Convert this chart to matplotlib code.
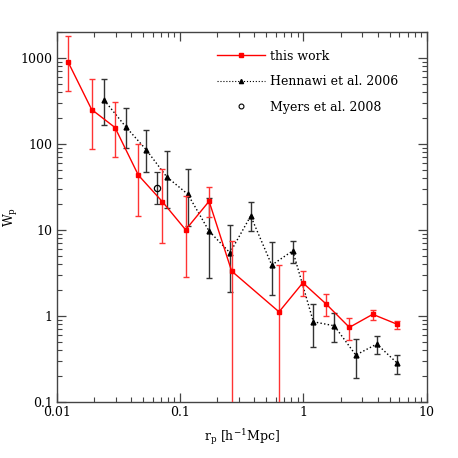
import numpy as np
import matplotlib
matplotlib.use("Agg")
import matplotlib.pyplot as plt
from matplotlib.lines import Line2D
from matplotlib.ticker import LogLocator, FixedFormatter, FixedLocator, NullFormatter

# this work (red squares)
r_this = [0.0124, 0.0192, 0.0297, 0.0459, 0.072, 0.111, 0.172, 0.262, 0.635, 0.99, 1.53, 2.36, 3.65, 5.72]
w_this = [891, 251, 155, 43.3, 21.2, 10.0, 21.5, 3.31, 1.11, 2.42, 1.37, 0.733, 1.04, 0.80]
w_this_hi = [1787, 575, 308, 101, 50.4, 24.8, 31.6, 7.45, 3.89, 3.31, 1.79, 0.948, 1.17, 0.875]
w_this_lo = [410, 87.5, 70.6, 14.5, 7.0, 2.84, 14.2, 1e-4, 1e-4, 1.71, 1.0, 0.521, 0.884, 0.706]

# Hennawi et al. 2006 (black triangles)
r_henn = [0.0243, 0.0363, 0.053, 0.078, 0.1155, 0.172, 0.254, 0.374, 0.554, 0.82, 1.205, 1.78, 2.66, 3.94, 5.78]
w_henn = [322, 158, 86, 41.3, 26, 9.66, 5.4, 14.5, 3.89, 5.7, 0.851, 0.765, 0.349, 0.469, 0.28]
w_henn_hi = [576, 262, 144, 82.2, 51.7, 23.2, 11.3, 20.8, 7.13, 7.45, 1.36, 1.08, 0.532, 0.58, 0.349]
w_henn_lo = [168, 88.4, 47.2, 18, 11.1, 2.72, 1.87, 9.73, 1.74, 4.13, 0.436, 0.494, 0.187, 0.359, 0.208]

# Myers et al. 2008 (open circle)
r_myers = [0.0648]
w_myers = [30.8]
w_myers_hi = [46.5]
w_myers_lo = [19.9]

plt.rcParams['font.family'] = 'DejaVu Serif'
plt.rcParams['mathtext.fontset'] = 'dejavuserif'

fig = plt.figure(figsize=(4.58, 4.58), dpi=100)
ax = fig.add_axes([0.1238, 0.1229, 0.8079, 0.8071])


def errs(w, lo, hi):
    w = np.array(w)
    return [w - np.array(lo), np.array(hi) - w]


ax.errorbar(r_this, w_this, yerr=errs(w_this, w_this_lo, w_this_hi), color='red',
            ecolor='#ff3333', marker='s', ms=3, lw=1.0, elinewidth=1.0, capsize=2.5,
            zorder=3)
ax.errorbar(r_henn, w_henn, yerr=errs(w_henn, w_henn_lo, w_henn_hi), color='black',
            ecolor='#333333', marker='^', ms=3.5, lw=1.0, ls=':', elinewidth=1.0, capsize=2.5,
            zorder=2)
ax.errorbar(r_myers, w_myers, yerr=errs(w_myers, w_myers_lo, w_myers_hi), color='black',
            ecolor='#333333', marker='o', ms=4.5, mfc='none', mew=0.9, ls='none',
            elinewidth=1.0, capsize=2.5, zorder=2)

ax.set_xscale('log')
ax.set_yscale('log')
ax.set_xlim(0.01, 10)
ax.set_ylim(0.1, 2000)

ax.xaxis.set_major_locator(FixedLocator([0.01, 0.1, 1, 10]))
ax.xaxis.set_major_formatter(FixedFormatter(['0.01', '0.1', '1', '10']))
ax.yaxis.set_major_locator(FixedLocator([0.1, 1, 10, 100, 1000]))
ax.yaxis.set_major_formatter(FixedFormatter(['0.1', '1', '10', '100', '1000']))
ax.xaxis.set_minor_locator(LogLocator(base=10, subs=np.arange(2, 10)))
ax.yaxis.set_minor_locator(LogLocator(base=10, subs=np.arange(2, 10)))
ax.xaxis.set_minor_formatter(NullFormatter())
ax.yaxis.set_minor_formatter(NullFormatter())

ax.tick_params(which='both', direction='in', top=True, right=True, labelsize=9,
               color='#444444', pad=3)
ax.tick_params(which='major', length=6.5, width=0.9)
ax.tick_params(which='minor', length=3.5, width=0.8)
for s in ax.spines.values():
    s.set_color('#444444')
    s.set_linewidth(1.0)

ax.set_xlabel(r'r$_{\rm p}$ [h$^{-1}$Mpc]', fontsize=9, labelpad=6)
ax.set_ylabel(r'W$_{\rm p}$', fontsize=9)
ax.yaxis.set_label_coords(-0.098, 0.5)

# legend without error bars, as in the original
handles = [
    Line2D([], [], color='red', marker='s', ms=2.5, lw=1.0),
    Line2D([], [], color='black', marker='^', ms=3, lw=0.8, ls=':'),
    Line2D([], [], color='black', marker='o', ms=3.5, mfc='none', mew=0.8, ls='none'),
]
labels = ['this work', 'Hennawi et al. 2006', 'Myers et al. 2008']
ax.legend(handles, labels, loc='upper left', bbox_to_anchor=(0.432, 0.952), frameon=False,
          fontsize=9, handlelength=3.85, handletextpad=0.4, labelspacing=1.0, borderpad=0,
          borderaxespad=0, numpoints=1)

fig.savefig('out.png', dpi=100)
